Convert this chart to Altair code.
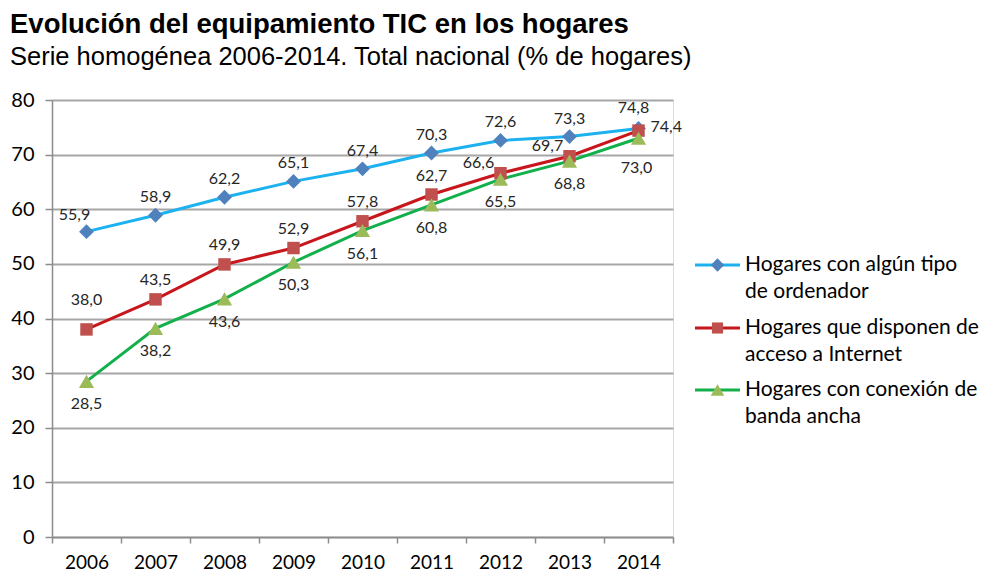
import altair as alt
import pandas as pd

# ---------------- data ----------------
years = [2006, 2007, 2008, 2009, 2010, 2011, 2012, 2013, 2014]
ordenador = [55.9, 58.9, 62.2, 65.1, 67.4, 70.3, 72.6, 73.3, 74.8]
internet = [38.0, 43.5, 49.9, 52.9, 57.8, 62.7, 66.6, 69.7, 74.4]
banda_ancha = [28.5, 38.2, 43.6, 50.3, 56.1, 60.8, 65.5, 68.8, 73.0]

series_keys = ["ordenador", "internet", "banda"]
series_values = [ordenador, internet, banda_ancha]
legend_labels = [
    "Hogares con algún tipo\nde ordenador",
    "Hogares que disponen de\nacceso a Internet",
    "Hogares con conexión de\nbanda ancha",
]
y_ticks = [0, 10, 20, 30, 40, 50, 60, 70, 80]

title_text = "Evolución del equipamiento TIC en los hogares"
subtitle_text = "Serie homogénea 2006-2014. Total nacional (% de hogares)"

# ---------------- styles ----------------
line_colors = ["#1CB2F0", "#C8161D", "#12B04A"]
marker_colors = ["#4F81BD", "#C0504D", "#9BBB59"]
marker_shapes = ["diamond", "square", "triangle-up"]
marker_sizes = [220, 155, 230]

# label placement groups: (series, years, dx, dy, align)
label_groups = [
    ("ordenador", [2006], -12, -17, "center"),
    ("ordenador", [2007, 2008, 2009, 2010, 2011, 2012, 2013], 0, -18, "center"),
    ("ordenador", [2014], -5, -20, "center"),
    ("internet", [2006], 0, -29, "center"),
    ("internet", [2007, 2008, 2009, 2010, 2011], 0, -19, "center"),
    ("internet", [2012, 2013], -22, -10, "center"),
    ("internet", [2014], 12, -4, "left"),
    ("banda", [2006, 2007, 2008, 2009, 2010, 2011, 2012, 2013], 0, 23, "center"),
    ("banda", [2014], -2, 30, "center"),
]

FONT = "Lato"
W, H = 621, 437

rows = []
for key, vals in zip(series_keys, series_values):
    for yr, v in zip(years, vals):
        rows.append({"year": yr, "series": key, "value": v,
                     "label": f"{v:.1f}".replace(".", ",")})
df = pd.DataFrame(rows)

x_enc = alt.X(
    "year:O",
    scale=alt.Scale(paddingInner=0, paddingOuter=0),
    axis=alt.Axis(
        title=None, labelAngle=0, tickBand="extent", grid=False,
        labelFont=FONT, labelFontSize=19, labelColor="#000000",
        labelPadding=10, tickSize=6, tickColor="#8C8C8C", tickWidth=1.5,
        domainColor="#8C8C8C", domainWidth=1.5,
    ),
)
y_enc = alt.Y(
    "value:Q",
    scale=alt.Scale(domain=[0, 80], nice=False, zero=True),
    axis=alt.Axis(
        title=None, values=y_ticks, grid=True, gridColor="#A6A6A6", gridWidth=1.8,
        labelFont=FONT, labelFontSize=20, labelColor="#000000",
        labelPadding=11, tickSize=7, tickColor="#8C8C8C", tickWidth=1.5,
        domainColor="#8C8C8C", domainWidth=1.5,
    ),
)

base = alt.Chart(df)
layers = []
for i, key in enumerate(series_keys):
    sub = base.transform_filter(alt.datum.series == key)
    layers.append(
        sub.mark_line(color=line_colors[i], strokeWidth=3).encode(x=x_enc, y=y_enc)
    )
for i, key in enumerate(series_keys):
    sub = base.transform_filter(alt.datum.series == key)
    layers.append(
        sub.mark_point(shape=marker_shapes[i], filled=True, opacity=1,
                       size=marker_sizes[i], color=marker_colors[i])
        .encode(x=x_enc, y=y_enc)
    )

for key, yrs, dx, dy, align in label_groups:
    flt = alt.FieldOneOfPredicate(field="year", oneOf=yrs)
    layers.append(
        base.transform_filter(alt.datum.series == key)
        .transform_filter(flt)
        .mark_text(font=FONT, fontSize=16, color="#262626", dx=dx, dy=dy,
                   align=align, baseline="middle")
        .encode(x=x_enc, y=y_enc, text="label:N")
    )

# manual legend (line + marker + two-line label)
leg_y = [165, 228, 290]
for i, lab in enumerate(legend_labels):
    ldf = pd.DataFrame({"label": [lab]})
    lb = alt.Chart(ldf)
    layers.append(
        lb.mark_rule(color=line_colors[i], strokeWidth=3).encode(
            x=alt.value(643), x2=alt.value(688), y=alt.value(leg_y[i]))
    )
    layers.append(
        lb.mark_point(shape=marker_shapes[i], filled=True, opacity=1,
                      size=marker_sizes[i] * 0.8, color=marker_colors[i]).encode(
            x=alt.value(665.5), y=alt.value(leg_y[i]))
    )
    layers.append(
        lb.mark_text(font=FONT, fontSize=21, color="#000000", align="left",
                     baseline="middle", lineBreak="\n", lineHeight=27).encode(
            x=alt.value(693), y=alt.value(leg_y[i]), text="label:N")
    )

chart = (
    alt.layer(*layers)
    .properties(
        width=W, height=H,
        autosize=alt.AutoSizeParams(type="none"),
        padding={"left": 52, "top": 100, "right": 310, "bottom": 39},
        title=alt.TitleParams(
            text=title_text, subtitle=subtitle_text, anchor="start", dx=-42,
            font="Liberation Sans", fontSize=27.5, fontWeight="bold", color="#000000",
            subtitleFont="Liberation Sans", subtitleFontSize=25.5,
            subtitleColor="#000000", subtitlePadding=6, offset=20, frame="group",
        ),
    )
    .configure_view(stroke=None)
    .configure(background="white")
)

chart.save("out.html", embed_options={"renderer": "svg", "actions": False})
